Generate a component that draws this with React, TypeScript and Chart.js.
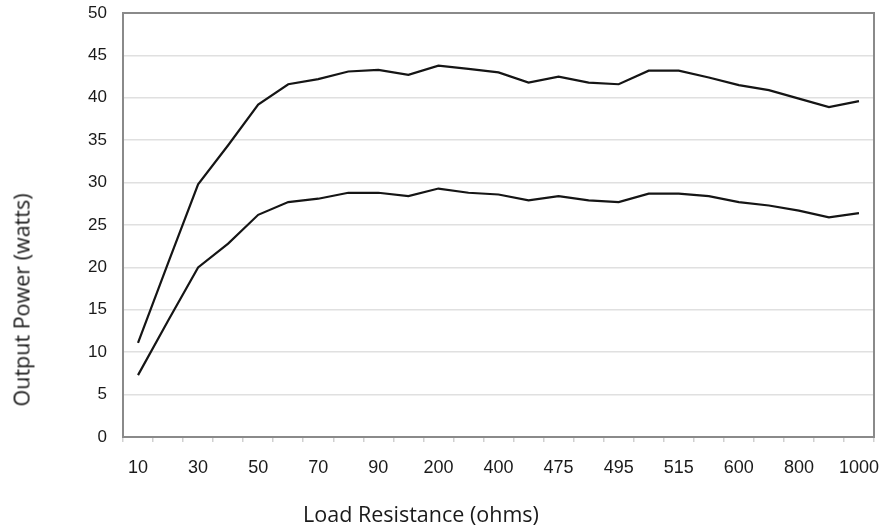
import React, { useEffect, useRef } from 'react';
import { Chart, registerables } from 'chart.js';

Chart.register(...registerables);

const resistanceLabels = ['10', '20', '30', '40', '50', '60', '70', '80', '90', '100', '200', '300', '400', '450', '475', '485', '495', '505', '515', '550', '600', '700', '800', '900', '1000'];
const upperSeries = [11.1, 20.5, 29.8, 34.4, 39.2, 41.6, 42.2, 43.1, 43.3, 42.7, 43.8, 43.4, 43.0, 41.8, 42.5, 41.8, 41.6, 43.2, 43.2, 42.4, 41.5, 40.9, 39.9, 38.9, 39.6];
const lowerSeries = [7.3, 13.7, 20.0, 22.8, 26.2, 27.7, 28.1, 28.8, 28.8, 28.4, 29.3, 28.8, 28.6, 27.9, 28.4, 27.9, 27.7, 28.7, 28.7, 28.4, 27.7, 27.3, 26.7, 25.9, 26.4];
const yMin = 0;
const yMax = 50;
const yStep = 5;
const xTitle = 'Load Resistance (ohms)';
const yTitle = 'Output Power (watts)';

const frameBox = {
  id: 'frameBox',
  beforeDatasetsDraw(chart: any) {
    const { ctx, chartArea } = chart;
    ctx.save();
    ctx.strokeStyle = '#8a8a8a';
    ctx.lineWidth = 2;
    ctx.strokeRect(chartArea.left, chartArea.top, chartArea.right - chartArea.left, chartArea.bottom - chartArea.top);
    ctx.restore();
  },
};

export default function App() {
  const ref = useRef<HTMLCanvasElement | null>(null);
  useEffect(() => {
    if (!ref.current) return;
    const chart = new Chart(ref.current, {
      type: 'line',
      data: {
        labels: resistanceLabels,
        datasets: [
          { data: upperSeries, borderColor: '#151515', borderWidth: 2.2, pointRadius: 0, tension: 0, fill: false },
          { data: lowerSeries, borderColor: '#151515', borderWidth: 2.2, pointRadius: 0, tension: 0, fill: false },
        ],
      },
      options: {
        animation: false,
        responsive: true,
        maintainAspectRatio: false,
        layout: { padding: { top: 13, right: 14, left: 0, bottom: 0 } },
        plugins: { legend: { display: false }, tooltip: { enabled: false }, title: { display: false } },
        scales: {
          x: {
            offset: true,
            grid: { offset: true, drawOnChartArea: false, drawTicks: true, tickLength: 5, color: '#d0d0d0', lineWidth: 1.5 },
            border: { display: false },
            ticks: {
              autoSkip: false,
              maxRotation: 0,
              padding: 15,
              color: '#1a1a1a',
              font: { family: 'Liberation Sans, Arial, sans-serif', size: 18 },
              callback: (_v: any, i: number) => (i % 2 === 0 ? resistanceLabels[i] : ''),
            },
            afterFit: (s: any) => { s.height = 94; s.paddingLeft = 0; s.paddingRight = 0; },
          },
          y: {
            min: yMin,
            max: yMax,
            grid: { drawTicks: false, color: '#e0e0e0', lineWidth: 1.5 },
            border: { display: false },
            ticks: {
              stepSize: yStep,
              padding: 16,
              color: '#1a1a1a',
              font: { family: 'Liberation Sans, Arial, sans-serif', size: 17 },
            },
            afterFit: (s: any) => { s.width = 123; s.paddingTop = 0; s.paddingBottom = 0; },
          },
        },
      },
      plugins: [frameBox],
    });
    return () => chart.destroy();
  }, []);

  return (
    <div style={{ position: 'fixed', left: 0, top: 0, width: 888, height: 531, background: '#fff' }}>
      <div style={{ position: 'absolute', left: 0, top: 0, width: 888, height: 531 }}>
        <canvas ref={ref} />
      </div>
      <div
        style={{
          position: 'absolute', left: 421, top: 513, transform: 'translate(-50%, -50%)',
          fontFamily: '"Open Sans", "Noto Sans", sans-serif', fontSize: 21.5, color: '#1a1a1a', whiteSpace: 'nowrap',
        }}
      >
        {xTitle}
      </div>
      <div
        style={{
          position: 'absolute', left: 21, top: 300, transform: 'translate(-50%, -50%) rotate(-90deg)',
          fontFamily: '"Open Sans", "Noto Sans", sans-serif', fontSize: 21.5, color: '#1a1a1a', whiteSpace: 'nowrap',
        }}
      >
        {yTitle}
      </div>
    </div>
  );
}
